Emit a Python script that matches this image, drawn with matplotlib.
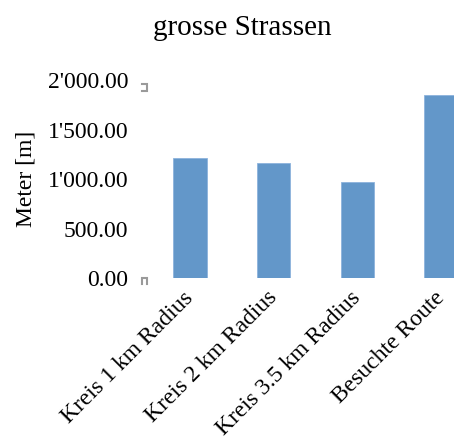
import matplotlib
matplotlib.use("Agg")
import matplotlib.pyplot as plt
from matplotlib.ticker import FuncFormatter, FixedLocator
from matplotlib.lines import Line2D

# Data
categories = ["Kreis 1 km Radius", "Kreis 2 km Radius", "Kreis 3.5 km Radius", "Besuchte Route"]
meters = [1218, 1165, 969, 1853]
y_ticks = [0, 500, 1000, 1500, 2000]

plt.rcParams["font.family"] = ["Liberation Serif", "DejaVu Serif"]

fig = plt.figure(figsize=(4.54, 4.47), dpi=100)
ax = fig.add_axes([148 / 454, 1 - 278 / 447, 335 / 454, (278 - 80.5) / 447])

x = range(len(categories))
ax.bar(x, meters, width=0.4, color="#6397c9", edgecolor="#8db3dc", linewidth=0.6)

ax.set_xlim(-0.5, len(categories) - 0.5)
ax.set_ylim(0, 2000)
ax.yaxis.set_major_locator(FixedLocator(y_ticks))
ax.yaxis.set_major_formatter(FuncFormatter(lambda v, _: f"{v:,.2f}".replace(",", "'")))
ax.set_xticks(list(x))
ax.set_xticklabels(categories, rotation=45, ha="right", va="center",
                   rotation_mode="anchor", fontsize=17)
ax.tick_params(axis="y", length=0, pad=14, labelsize=17)
ax.tick_params(axis="x", length=0, pad=12)
for s in ax.spines.values():
    s.set_visible(False)

ax.set_ylabel("Meter [m]", fontsize=17)
ax.yaxis.set_label_coords(-0.332, 0.5)

fig.text(242 / 454, 1 - 28 / 447, "grosse Strassen", ha="center", va="center", fontsize=21)

# Small grey bracket handles at both ends of the value axis (offsets in pixels)
handles = [
    ((0, 1), [-6.3, -1.0, -1.0, -6.3], [-3.0, -3.0, -10.0, -10.0]),
    ((0, 0), [-6.5, -6.5, -1.5, -1.5], [-6.0, 0.5, 0.5, -6.0]),
]
fig.canvas.draw()
for corner, dxs, dys in handles:
    cx, cy = ax.transAxes.transform(corner)
    fig.add_artist(Line2D([cx + d for d in dxs], [cy + d for d in dys], transform=None,
                          color="#9a9a9a", linewidth=1.5, solid_joinstyle="miter",
                          clip_on=False))

fig.savefig("out.png", dpi=100)
